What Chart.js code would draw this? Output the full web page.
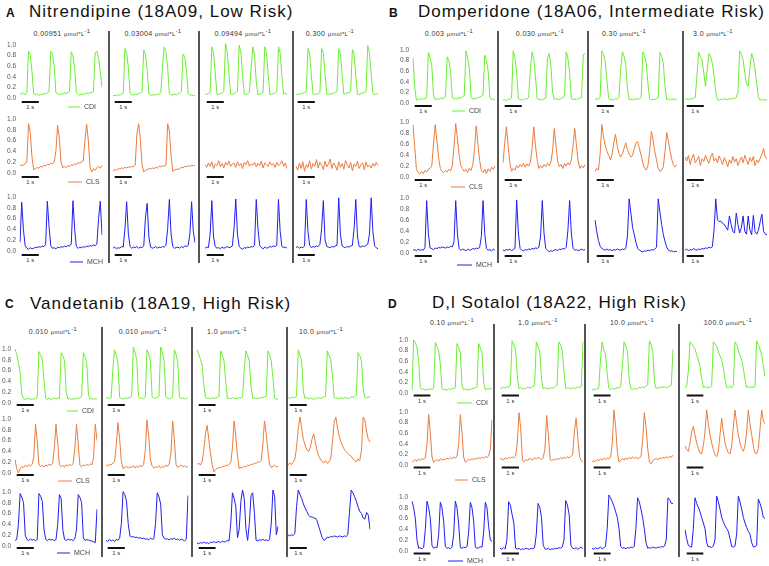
<!DOCTYPE html>
<html><head><meta charset="utf-8">
<script src="https://cdn.jsdelivr.net/npm/chart.js@4.4.1/dist/chart.umd.min.js"></script>
<style>
body{margin:0;width:769px;height:566px;background:#fff;position:relative;overflow:hidden;font-family:"Liberation Sans",Arial,sans-serif;}
.abs{position:absolute;white-space:nowrap;}
.ttl{font-size:17px;line-height:17px;letter-spacing:1px;color:#111;}
.lt{font-size:12px;line-height:12px;font-weight:bold;color:#111;}
.conc{font-size:7px;line-height:7px;letter-spacing:0.4px;color:#333;transform:translateX(-50%);}
.conc .u{font-size:5.8px;}
.conc sup{font-size:5.8px;line-height:0;vertical-align:3px;}
.sep{background:#555;width:1.5px;}
canvas{position:absolute;}
</style></head><body>
<script>
// ---------- categories / labels ----------
const ROWS = ['CDI','CLS','MCH'];
const TITLES = {A:'Nitrendipine (18A09, Low Risk)', B:'Domperidone (18A06, Intermediate Risk)', C:'Vandetanib (18A19, High Risk)', D:'D,l Sotalol (18A22, High Risk)'};
const CONC_A = ['0.00951','0.03004','0.09494','0.300'];
const CONC_B = ['0.003','0.030','0.30','3.0'];
const CONC_C = ['0.010','0.010','1.0','10.0'];
const CONC_D = ['0.10','1.0','10.0','100.0'];
const Y_TICKS = [0,0.2,0.4,0.6,0.8,1.0];

// ---------- series values (normalised amplitude x100, one sample per 0.1 s) ----------
const A_CDI = [
 [7,8,10,6,10,88,82,50,8,6,8,5,7,6,9,8,10,12,88,84,60,10,8,6,8,7,10,8,10,12,87,80,55,10,7,5,8,6,8,10,8,10,10,12,85,88,75,50,20],
 [4,5,4,6,5,7,9,90,82,55,8,6,5,7,6,8,9,11,87,80,52,7,5,6,5,7,6,8,10,60,93,84,55,8,5,6,7,5,8,9,12,80,75,50,8,5,6,4,5],
 [6,7,8,10,93,82,45,7,6,8,9,12,99,85,45,7,6,8,10,12,96,83,40,7,6,8,10,55,93,78,30,6,7,8,10,93,82,42,6,7,8,9,12,93,82,40,7,8,7],
 [7,6,8,7,9,10,12,90,80,40,7,6,8,7,10,90,82,45,7,6,8,7,9,10,12,90,80,42,7,8,9,10,12,88,80,40,7,6,8,9,10,12,95,83,45,8,6,8,7]];
const A_CLS = [
 [13,15,14,18,20,91,75,30,6,8,10,9,12,11,14,13,16,15,18,17,20,40,88,65,20,10,12,10,13,12,15,14,17,16,19,18,20,22,60,90,60,10,2,8,5,10,12,9,14],
 [4,6,5,8,7,9,8,10,9,11,10,12,11,14,70,88,60,15,2,5,6,8,7,9,8,10,9,12,11,13,12,14,88,75,30,3,5,7,6,8,10,9,12,11,13,12,14,13,14],
 [15,10,18,12,20,8,16,13,22,11,17,9,19,14,21,12,16,18,10,20,13,17,8,19,15,22,12,16,14,19,11,17,13,21,9,18,15,12,20,14,17,10,19,13,16,22,12,18,8],
 [12,5,18,8,20,3,15,10,22,7,17,12,24,9,19,14,6,21,11,16,25,8,18,13,5,20,10,17,7,22,14,9,19,4,16,12,21,8,15,18,6,20,11,14,9,17,12,19,13]];
const A_MCH = [
 [16,90,40,10,5,3,6,4,5,7,6,8,7,9,8,12,92,45,10,5,6,4,7,6,8,7,9,8,10,9,13,93,40,8,5,7,6,8,7,9,8,10,9,11,10,13,60,92,30],
 [5,7,4,6,5,8,7,40,88,30,8,5,7,6,8,5,7,6,9,60,85,25,7,5,6,8,5,7,6,8,7,10,40,92,30,8,5,6,7,5,8,6,9,8,10,30,88,35,15],
 [5,7,6,30,90,25,8,5,6,4,7,5,6,8,6,7,9,40,93,30,8,5,3,6,5,7,6,8,7,10,92,40,10,6,4,7,5,6,8,7,9,8,10,92,35,8,6,7,5],
 [6,8,5,7,6,9,92,35,10,6,8,7,9,8,12,40,90,20,8,7,6,8,7,9,10,95,30,9,7,6,8,7,9,10,40,92,25,8,7,9,8,10,12,30,95,35,9,6,4]];
const B_CDI = [
 [85,30,5,8,6,9,7,8,10,95,85,70,15,6,8,7,9,8,10,12,87,80,60,10,7,9,8,10,9,12,14,98,85,65,12,7,9,8,10,11,13,15,90,80,60,10,6,8,5],
 [5,6,4,7,6,9,95,82,55,8,6,7,5,8,7,10,60,93,80,50,8,6,7,5,8,9,80,90,70,20,6,8,7,6,8,10,12,93,82,55,8,6,7,6,8,9,10,88,90],
 [6,8,7,10,95,88,75,40,8,6,7,5,8,7,10,60,93,85,70,25,6,7,5,8,6,8,7,10,93,86,72,35,7,5,7,6,8,10,92,85,72,30,6,8,5,7,6,8,5],
 [7,8,6,8,7,9,10,50,92,85,78,55,30,60,90,85,72,50,20,6,5,7,6,8,7,6,8,7,9,8,10,20,95,88,78,55,35,30,65,90,80,60,35,10,5,7,5,6,5]];
const B_CLS = [
 [95,55,15,8,5,10,6,12,9,14,16,20,60,95,65,35,15,10,8,12,9,14,11,20,55,97,70,40,20,15,10,14,8,16,12,22,50,93,60,30,12,8,14,6,15,10,18,14,20],
 [25,60,88,55,25,10,15,12,20,16,22,18,24,17,23,19,25,50,88,55,30,15,20,16,22,18,24,20,26,45,85,55,28,18,22,15,24,19,25,21,30,55,85,55,28,15,20,16,22],
 [10,15,12,40,92,70,55,45,38,30,40,60,75,55,42,35,40,50,60,48,40,35,38,50,60,62,50,38,25,15,12,20,45,80,65,45,30,15,10,12,18,45,78,62,45,30,20,18,22],
 [35,28,38,22,33,40,25,30,36,20,32,27,38,30,24,35,42,28,33,25,37,30,22,34,28,18,30,24,36,26,32,20,28,35,25,38,30,22,34,27,36,20,30,25,33,40,50,35,32]];
const B_MCH = [
 [5,6,4,7,5,6,5,10,95,35,9,8,6,9,8,10,9,11,10,9,11,10,12,11,20,95,35,8,5,7,6,4,7,5,6,8,7,9,8,10,30,95,35,8,5,6,4,7,5],
 [5,4,6,5,7,4,6,8,93,35,8,5,4,6,5,7,6,8,7,9,8,10,30,92,35,8,5,2,4,3,5,6,4,7,6,8,7,10,40,92,35,8,5,6,4,5,7,5,6],
 [58,38,22,12,8,6,5,7,5,6,4,6,5,7,6,5,7,6,8,30,95,70,45,32,18,8,5,3,2,4,3,5,4,6,5,7,10,95,72,50,32,20,10,5,3,4,2,3,2],
 [5,7,4,6,5,8,6,5,7,6,8,7,9,8,10,9,11,40,95,58,55,56,52,50,45,40,65,50,38,35,70,50,35,45,65,38,33,65,40,32,66,38,33,40,55,68,38,33,32]];
const C_CDI = [
 [100,90,75,55,15,8,6,9,7,8,6,9,7,10,95,88,80,40,8,7,9,6,8,10,7,9,8,93,87,78,20,7,9,6,8,7,9,8,10,12,93,86,75,15,7,9,6,8,7],
 [9,10,8,9,60,95,85,70,10,8,7,9,8,10,9,12,100,90,78,12,8,9,7,10,95,88,75,12,8,9,10,12,100,90,75,12,8,7,9,10,95,88,72,10,8,9,7,8,9],
 [95,88,78,68,35,10,8,9,7,10,8,9,10,12,93,85,75,40,8,9,7,10,8,9,7,10,9,11,60,93,85,75,30,8,10,7,9,8,10,9,11,12,93,86,75,45,8,7,7],
 [10,8,11,9,10,12,95,85,75,20,8,10,7,9,8,6,9,7,10,8,9,11,12,93,85,78,50,10,8,9,7,10,8,9,10,8,9,11,10,12,14,90,85,75,25,10,9,11,10]];
const C_CLS = [
 [25,8,0,8,12,10,14,12,15,13,16,30,90,60,15,12,14,11,15,13,16,14,18,45,90,55,15,12,14,11,15,13,16,14,17,45,90,55,14,12,15,13,16,14,17,15,30,90,60],
 [15,12,16,14,18,20,50,90,60,20,8,10,12,9,11,10,13,9,12,10,14,11,15,40,95,65,25,12,9,11,10,13,9,12,10,14,12,16,35,93,60,15,10,12,14,11,13,10,12],
 [15,18,14,20,40,70,85,60,35,15,2,6,8,10,9,12,11,14,13,16,18,45,93,65,30,8,10,9,12,11,14,13,16,15,18,17,20,19,22,50,93,70,40,15,10,12,14,11,12],
 [14,18,15,20,25,45,80,100,80,60,50,42,38,45,60,70,55,40,30,25,20,18,22,17,20,25,55,90,100,80,65,55,48,42,38,35,32,30,25,22,20,25,22,40,100,95,75,60,55]];
const C_MCH = [
 [10,12,40,97,90,80,20,12,10,13,11,12,10,12,97,92,82,30,12,10,13,11,12,10,12,40,95,88,30,12,10,13,11,12,10,13,30,95,90,80,15,10,12,11,10,9,8,6,68],
 [10,8,12,9,11,8,12,10,14,40,97,92,80,40,18,16,17,15,16,14,15,13,14,12,13,11,14,12,13,40,95,88,75,20,14,12,13,11,13,12,14,11,13,10,12,11,9,12,90],
 [5,4,6,5,7,5,6,4,7,6,8,6,7,8,6,9,7,8,10,9,40,95,85,70,15,30,80,100,85,30,10,40,90,95,60,10,9,11,10,12,10,11,9,12,40,100,88,20,35],
 [20,18,20,19,22,70,100,92,85,75,68,62,55,52,52,50,50,45,35,25,15,10,12,16,15,17,16,18,17,16,18,17,16,18,17,20,60,100,95,88,80,70,62,58,50,48,60,55,30]];
const D_CDI = [
 [5,100,95,85,60,10,6,8,5,7,6,8,7,9,95,88,80,55,8,6,7,5,8,6,9,8,10,93,86,75,15,6,8,5,7,6,8,9,10,12,93,85,75,20,6,8,7,9,7],
 [10,8,11,9,12,10,14,95,88,78,30,8,10,7,9,8,11,9,10,12,14,93,85,75,25,8,10,7,9,8,10,9,12,14,93,88,78,40,8,9,9,7,10,8,9,11,10,12,93],
 [5,7,6,8,9,60,93,78,70,35,8,6,9,7,8,10,9,12,50,93,85,75,25,8,6,9,7,8,10,9,11,10,13,15,95,88,75,20,8,10,9,11,10,12,9,11,12,14,80],
 [10,12,40,93,90,85,80,70,60,48,25,10,12,9,11,10,13,93,90,85,75,68,60,45,25,10,9,12,10,14,93,88,78,68,60,45,25,10,12,9,11,10,12,95,88,80,68,50,30]];
const D_CLS = [
 [5,8,10,7,11,9,12,10,14,40,95,60,15,5,8,10,7,12,9,11,10,13,11,14,12,15,13,16,40,95,60,15,5,8,11,9,12,10,13,11,14,12,15,13,16,14,17,30,85],
 [10,12,9,13,11,14,12,15,13,16,40,95,65,8,6,10,8,12,10,9,13,11,14,12,10,13,30,90,55,10,8,11,9,12,10,13,11,14,12,15,13,16,18,60,85,50,15,8,5],
 [5,8,6,10,8,11,9,12,10,13,11,14,40,100,70,25,5,8,12,9,13,10,14,11,15,12,14,11,13,15,45,95,70,30,5,2,8,10,12,9,13,11,14,12,15,13,16,14,18],
 [35,28,25,40,60,70,55,40,30,22,20,35,60,100,75,55,40,28,18,15,25,55,85,60,40,30,22,20,35,70,100,75,55,40,30,25,35,60,100,75,55,35,22,20,30,65,100,80,75]];
const D_MCH = [
 [92,80,60,20,5,6,4,7,40,92,80,60,10,5,7,6,30,90,80,55,8,5,6,4,7,30,92,80,50,6,5,7,6,8,35,90,80,55,7,5,6,8,7,35,90,80,45,20,18],
 [5,3,6,4,20,88,82,65,50,5,3,5,2,4,3,5,4,3,5,4,6,30,85,78,60,10,4,3,5,2,4,3,5,4,6,5,7,20,90,82,65,10,5,4,6,3,5,7,4],
 [5,3,6,4,5,7,4,6,8,40,100,95,88,80,70,60,40,8,5,6,4,6,5,7,6,8,40,95,88,75,60,40,15,5,6,5,7,6,5,7,6,8,7,9,20,95,92,85,85],
 [38,22,10,8,7,40,95,85,78,70,60,50,40,15,7,8,6,9,20,98,88,75,60,52,45,40,35,22,8,7,9,30,98,88,75,60,50,42,35,30,15,7,8,10,93,85,75,60,58]];

// ---------- styles & layout (positions only) ----------
const COLORS = {CDI:'#6ced33', CLS:'#ec7c3c', MCH:'#1f1ff0'};
const LAYOUT = {
 A:{cols:[[20,102],[113,195],[205,287],[296,378]], rows:[[43,98],[117,173],[195,251]], barOff:4,
    seps:[109,199,293], sepY:[31,263], concX:[62,153,243,330], concBase:36, letter:[6,17], title:[29,17],
    legend:[[68,80,107],[68,82,182],[70,83,262]]},
 B:{cols:[[413,495],[503,585],[595,677],[685,767]], rows:[[48,103],[120,177],[196,253]], barOff:3,
    seps:[498,588,683], sepY:[31,263], concX:[449,540,624,713], concBase:36, letter:[389,17], title:[418,17],
    legend:[[452,465,111],[451,465,187],[457,472,265]]},
 C:{cols:[[15,97],[106,188],[197,278],[288,370]], rows:[[347,403],[417,473],[490,546]], barOff:2,
    seps:[102,192,287], sepY:[327,557], concX:[53,143,227,321], concBase:334, letter:[5,308], title:[30,309],
    legend:[[67,78,411],[58,72,481],[57,70,553]]},
 D:{cols:[[412,492],[500,583],[592,673],[685,765]], rows:[[338,393],[410,465],[495,551]], barOff:2.5,
    seps:[494,585,679], sepY:[324,557], concX:[452,538,632,728], concBase:325, letter:[388,308], title:[432,308],
    legend:[[457,472,403],[455,468,480],[448,463,561]]}
};
const SERIES = {A:[A_CDI,A_CLS,A_MCH], B:[B_CDI,B_CLS,B_MCH], C:[C_CDI,C_CLS,C_MCH], D:[D_CDI,D_CLS,D_MCH]};
const CONCS = {A:CONC_A, B:CONC_B, C:CONC_C, D:CONC_D};
const TIME = Array.from({length:49}, (_, i) => (i / 10).toFixed(1)); // sample times, s

Chart.defaults.font.family = '"Liberation Sans", Arial, sans-serif';

const scaleBar = {
  id:'scaleBar',
  afterDraw(chart, args, o){
    const ctx = chart.ctx, x = chart.scales.x, y = chart.scales.y;
    const xa = x.getPixelForValue(1), xb = x.getPixelForValue(11);
    const yb = y.getPixelForValue(0) + o.off;
    ctx.save();
    ctx.strokeStyle = '#111'; ctx.lineWidth = 2;
    ctx.beginPath(); ctx.moveTo(xa, yb); ctx.lineTo(xb, yb); ctx.stroke();
    ctx.fillStyle = '#333'; ctx.font = '6px "Liberation Sans", Arial';
    ctx.textAlign = 'center'; ctx.textBaseline = 'middle';
    ctx.fillText('1 s', (xa + xb) / 2, yb + 5.5);
    if (o.legend) {
      const L = o.legend;
      ctx.strokeStyle = L.color; ctx.lineWidth = 1;
      ctx.beginPath(); ctx.moveTo(L.x0, L.y); ctx.lineTo(L.x1, L.y); ctx.stroke();
      ctx.fillStyle = '#444'; ctx.font = '7px "Liberation Sans", Arial';
      ctx.textAlign = 'left'; ctx.textBaseline = 'middle';
      ctx.fillText(L.text, L.x1 + 4, L.y);
    }
    ctx.restore();
  }
};

function addDiv(cls, left, top, html, extra){
  const d = document.createElement('div');
  d.className = 'abs ' + cls;
  d.style.left = left + 'px'; d.style.top = top + 'px';
  if (extra) Object.assign(d.style, extra);
  d.innerHTML = html;
  document.body.appendChild(d);
  return d;
}

function makeChart(panel, r, c){
  const L = LAYOUT[panel];
  const [x0, x1] = L.cols[c];
  const [yT, yB] = L.rows[r];
  const padT = 6, padB = 18, padR = 5;
  const axisW = c === 0 ? 18 : 0;
  const padL = c === 0 ? 0 : 2;
  const left = x0 - axisW - padL, top = yT - padT;
  const w = (x1 - x0) + axisW + padL + padR, h = (yB - yT) + padT + padB;
  const cv = document.createElement('canvas');
  cv.width = w; cv.height = h;
  cv.style.left = left + 'px'; cv.style.top = top + 'px';
  cv.style.width = w + 'px'; cv.style.height = h + 'px';
  document.body.appendChild(cv);
  const row = ROWS[r];
  let legend = null;
  if (c === 0) {
    const lg = L.legend[r];
    legend = {x0: lg[0] - left, x1: lg[1] - left, y: lg[2] - top, text: row, color: COLORS[row]};
  }
  new Chart(cv, {
    type: 'line',
    data: {labels: TIME, datasets: [{
      data: SERIES[panel][r][c].map(v => v / 100),
      borderColor: COLORS[row], borderWidth: 1, pointRadius: 0, tension: 0, fill: false
    }]},
    options: {
      responsive: false, animation: false, devicePixelRatio: 1,
      layout: {padding: {left: padL, right: padR, top: padT, bottom: padB}},
      plugins: {legend: {display: false}, tooltip: {enabled: false},
                scaleBar: {off: L.barOff, legend: legend}},
      scales: {
        x: {type: 'category', display: false, offset: false},
        y: {min: 0, max: 1, display: c === 0,
            afterFit: s => { s.width = axisW; },
            afterBuildTicks: s => { s.ticks = Y_TICKS.map(v => ({value: v})); },
            grid: {display: false, drawTicks: false, tickLength: 0}, border: {display: false},
            ticks: {font: {size: 6.5}, color: '#555', padding: 4, callback: v => Number(v).toFixed(1)}}
      }
    },
    plugins: [scaleBar]
  });
}

for (const p of ['A','B','C','D']) {
  const L = LAYOUT[p];
  addDiv('lt', L.letter[0], L.letter[1] - 10.2, p);
  addDiv('ttl', L.title[0], L.title[1] - 14.4, TITLES[p]);
  CONCS[p].forEach((cc, i) => {
    addDiv('conc', L.concX[i], L.concBase - 5.9, cc + ' <span class="u">\u00b5mol*L</span><sup>-1</sup>');
  });
  L.seps.forEach(sx => {
    addDiv('sep', sx - 0.75, L.sepY[0], '', {height: (L.sepY[1] - L.sepY[0]) + 'px'});
  });
  for (let r = 0; r < 3; r++) for (let c = 0; c < 4; c++) makeChart(p, r, c);
}
</script>
</body></html>
